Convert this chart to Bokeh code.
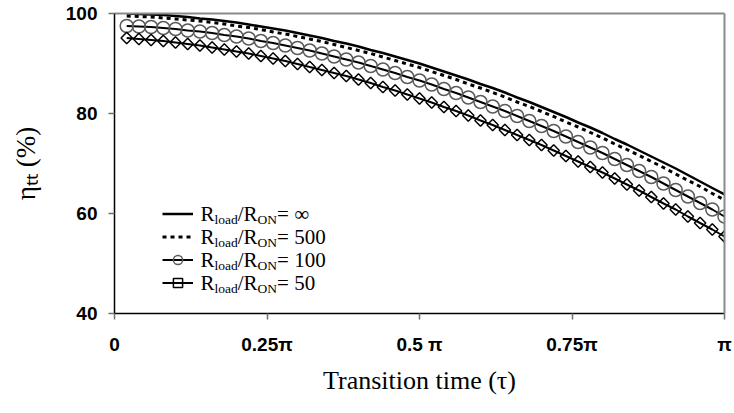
import math
from bokeh.plotting import figure
from bokeh.models import Label, Legend, LegendItem, LinearAxis, FixedTicker, Range1d
from bokeh.embed import file_html
from bokeh.resources import INLINE

# transition time in units of pi
tau = [0.02, 0.04, 0.06, 0.08, 0.10, 0.12, 0.14, 0.16, 0.18, 0.20,
       0.22, 0.24, 0.26, 0.28, 0.30, 0.32, 0.34, 0.36, 0.38, 0.40,
       0.42, 0.44, 0.46, 0.48, 0.50, 0.52, 0.54, 0.56, 0.58, 0.60,
       0.62, 0.64, 0.66, 0.68, 0.70, 0.72, 0.74, 0.76, 0.78, 0.80,
       0.82, 0.84, 0.86, 0.88, 0.90, 0.92, 0.94, 0.96, 0.98, 1.00]

eta_inf = [100.0, 99.9, 99.8, 99.7, 99.5, 99.3, 99.0, 98.8, 98.5, 98.2,
           97.8, 97.4, 97.0, 96.6, 96.1, 95.6, 95.1, 94.5, 94.0, 93.4,
           92.7, 92.1, 91.4, 90.7, 90.0, 89.2, 88.4, 87.6, 86.8, 85.9,
           85.1, 84.2, 83.2, 82.3, 81.3, 80.3, 79.3, 78.2, 77.2, 76.1,
           74.9, 73.8, 72.6, 71.4, 70.2, 69.0, 67.7, 66.4, 65.1, 63.8]

eta_500 = [99.5, 99.4, 99.3, 99.1, 98.9, 98.7, 98.5, 98.2, 97.9, 97.5,
           97.2, 96.8, 96.3, 95.9, 95.4, 94.9, 94.4, 93.8, 93.2, 92.6,
           92.0, 91.3, 90.6, 89.9, 89.2, 88.4, 87.6, 86.8, 85.9, 85.1,
           84.2, 83.3, 82.3, 81.4, 80.4, 79.4, 78.3, 77.3, 76.2, 75.1,
           73.9, 72.8, 71.6, 70.4, 69.2, 67.9, 66.6, 65.4, 64.0, 62.7]

eta_100 = [97.5, 97.4, 97.3, 97.1, 96.9, 96.6, 96.4, 96.1, 95.7, 95.4,
           95.0, 94.5, 94.1, 93.6, 93.1, 92.6, 92.0, 91.4, 90.8, 90.2,
           89.5, 88.8, 88.1, 87.3, 86.6, 85.8, 84.9, 84.1, 83.2, 82.3,
           81.4, 80.5, 79.5, 78.5, 77.5, 76.5, 75.4, 74.3, 73.2, 72.1,
           70.9, 69.7, 68.5, 67.3, 66.0, 64.7, 63.4, 62.1, 60.8, 59.4]

eta_50 = [95.1, 94.9, 94.7, 94.5, 94.2, 93.9, 93.6, 93.2, 92.8, 92.4,
          92.0, 91.5, 91.0, 90.5, 89.9, 89.3, 88.7, 88.1, 87.5, 86.8,
          86.1, 85.3, 84.6, 83.8, 83.0, 82.2, 81.3, 80.5, 79.6, 78.6,
          77.7, 76.7, 75.7, 74.7, 73.7, 72.6, 71.5, 70.4, 69.3, 68.2,
          67.0, 65.8, 64.6, 63.3, 62.0, 60.8, 59.4, 58.1, 56.8, 55.4]

legend_values = ["\u221e", "500", "100", "50"]
x_ticks = [0, 0.25, 0.5, 0.75, 1.0]
x_tick_labels = ["0", "0.25\u03c0", "0.5 \u03c0", "0.75\u03c0", "\u03c0"]
y_ticks = [40, 60, 80, 100]

SERIF = "Liberation Serif"
SANS = "Liberation Sans"

p = figure(width=734, height=413, x_range=Range1d(0, 1), y_range=Range1d(40, 100),
           output_backend="svg", toolbar_location=None,
           min_border_left=114, min_border_right=10, min_border_top=13, min_border_bottom=100)
p.grid.visible = False
p.outline_line_color = None
p.background_fill_color = "white"
p.border_fill_color = "white"

# x axis
p.xaxis.ticker = FixedTicker(ticks=x_ticks)
p.xaxis.major_label_overrides = {t: s for t, s in zip(x_ticks, x_tick_labels)}
p.xaxis.axis_line_color = "black"
p.xaxis.axis_line_width = 1.5
p.xaxis.major_tick_line_color = "#707070"
p.xaxis.major_tick_line_width = 1.5
p.xaxis.major_tick_out = 6
p.xaxis.major_tick_in = 0
p.xaxis.minor_tick_line_color = None
p.xaxis.major_label_text_font = SANS
p.xaxis.major_label_text_font_style = "bold"
p.xaxis.major_label_text_font_size = "19px"
p.xaxis.major_label_text_color = "black"
p.xaxis.major_label_standoff = 14
p.xaxis.axis_label = "Transition time (\u03c4)"
p.xaxis.axis_label_text_font = SERIF
p.xaxis.axis_label_text_font_style = "normal"
p.xaxis.axis_label_text_font_size = "26px"
p.xaxis.axis_label_text_color = "black"
p.xaxis.axis_label_standoff = 8

# y axis
p.yaxis.ticker = FixedTicker(ticks=y_ticks)
p.yaxis.axis_line_color = "black"
p.yaxis.axis_line_width = 1.5
p.yaxis.major_tick_line_color = "#707070"
p.yaxis.major_tick_line_width = 1.5
p.yaxis.major_tick_out = 6
p.yaxis.major_tick_in = 0
p.yaxis.minor_tick_line_color = None
p.yaxis.major_label_text_font = SANS
p.yaxis.major_label_text_font_style = "bold"
p.yaxis.major_label_text_font_size = "19px"
p.yaxis.major_label_text_color = "black"
p.yaxis.major_label_standoff = 11
p.yaxis.axis_label = "\u03b7\u209c\u209c (%)"
p.yaxis.axis_label_text_font = SERIF
p.yaxis.axis_label_text_font_style = "normal"
p.yaxis.axis_label_text_font_size = "27px"
p.yaxis.axis_label_text_color = "black"
p.yaxis.axis_label_standoff = 22

for side in ("above", "right"):
    ax = LinearAxis(axis_line_color="#8a8a8a", axis_line_width=2,
                    major_tick_line_color=None, minor_tick_line_color=None,
                    major_label_text_font_size="0px", major_label_text_color=None)
    p.add_layout(ax, side)

# series
r_inf = p.line(tau, eta_inf, line_color="black", line_width=2.5)
r_500 = p.line(tau, eta_500, line_color="black", line_width=3, line_dash="4 4")
r_100_l = p.line(tau, eta_100, line_color="black", line_width=2)
r_100_m = p.scatter(tau, eta_100, marker="circle", size=13, fill_color=None,
                    line_color="#5a5a5a", line_width=1.5)
r_50_l = p.line(tau, eta_50, line_color="black", line_width=2)
r_50_m = p.scatter(tau, eta_50, marker="square", angle=math.pi / 4, size=8,
                   fill_color=None, line_color="black", line_width=1.5)

LEG_X, LEG_Y, ROW_H = 48, 19, 23
legend = Legend(items=[
    LegendItem(label=" ", renderers=[r_inf]),
    LegendItem(label=" ", renderers=[r_500]),
    LegendItem(label=" ", renderers=[r_100_l, r_100_m]),
    LegendItem(label=" ", renderers=[r_50_l, r_50_m]),
], location=(LEG_X, LEG_Y), glyph_width=31, glyph_height=ROW_H, label_width=0,
    label_height=ROW_H, label_standoff=0, spacing=0, padding=0, margin=0,
    border_line_color=None, background_fill_alpha=0, label_text_font_size="1px")
p.add_layout(legend, "center")


def lab(x, y, text, dx, dy, size, font=SERIF, style="normal", align="left",
        baseline="middle"):
    p.add_layout(Label(x=x, y=y, x_offset=dx, y_offset=dy, text=text,
                       text_font=font, text_font_size=f"{size}px",
                       text_font_style=style, text_align=align,
                       text_baseline=baseline, text_color="black"))


# legend texts with subscripts (offsets from the frame's bottom-left corner)
MAIN, SUB, SUB_DROP = 21, 13.5, 5
for i, v in enumerate(legend_values):
    dy = LEG_Y + ROW_H * (len(legend_values) - i) - ROW_H / 2
    x0 = LEG_X + 38
    lab(0, 40, "R", x0, dy, MAIN)
    lab(0, 40, "load", x0 + 0.667 * MAIN, dy - SUB_DROP, SUB)
    lab(0, 40, "/R", x0 + 0.667 * MAIN + 1.722 * SUB, dy, MAIN)
    lab(0, 40, "ON", x0 + 1.612 * MAIN + 1.722 * SUB, dy - SUB_DROP, SUB)
    lab(0, 40, "= " + v, x0 + 1.612 * MAIN + 3.166 * SUB, dy, MAIN)

open("out.html", "w").write(file_html(p, INLINE))
